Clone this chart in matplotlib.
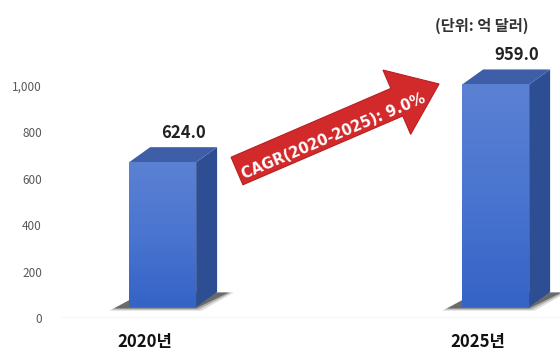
import numpy as np
import matplotlib
matplotlib.use("Agg")
from matplotlib import pyplot as plt
from matplotlib.patches import Polygon
from matplotlib.colors import LinearSegmentedColormap

plt.rcParams['font.family'] = ['Noto Sans CJK KR', 'DejaVu Sans']

# market size, unit: 100 million USD
years = ['2020년', '2025년']
values = [624.0, 959.0]
cagr_text = 'CAGR(2020-2025): 9.0%'
unit_text = '(단위: 억 달러)'
y_ticks = [0, 200, 400, 600, 800, 1000]

fig = plt.figure(figsize=(5.6, 3.52), dpi=100)
ax = fig.add_axes([60 / 560, 34 / 352, 500 / 560, 278 / 352])
ax.set_xlim(-0.2553, 1.2462)
ax.set_ylim(0, 1198)

# fake 3d box settings (data units)
shift = 0.053
width = 0.201
floor = 47.4
dx = 0.063
dy = 64.7

front_cmap = LinearSegmentedColormap.from_list('front', ['#3563c6', '#4a75d0', '#5b81d3'])
grad = np.linspace(0, 1, 256).reshape(-1, 1)

x = np.arange(len(values))
for i, v in enumerate(values):
    xl = x[i] + shift - width / 2
    xr = xl + width
    top = floor + v

    # soft floor shadow, darker towards the box
    for k, a in enumerate([0.15, 0.25, 0.5]):
        g = 0.008 * (2 - k)
        h = 5 * (2 - k)
        sh = Polygon([(xl - 0.045 - g, floor - 6 - h), (xr + g, floor - 6 - h),
                      (xr + dx + 0.035 + g, floor + dy - 2), (xl + dx - 0.02, floor + dy - 2)],
                     closed=True, facecolor='#262626', edgecolor='none', alpha=a, zorder=1)
        ax.add_patch(sh)

    bars = ax.bar(x[i] + shift, v, width=width, bottom=floor, color='#4a75d0', zorder=3)
    rect = bars[0]
    im = ax.imshow(grad, extent=(xl, xr, floor, top), origin='lower', cmap=front_cmap,
                   aspect='auto', zorder=3.5)
    im.set_clip_path(rect)

    side = Polygon([(xr, floor), (xr + dx, floor + dy), (xr + dx, top + dy), (xr, top)],
                   closed=True, facecolor='#2e4e94', edgecolor='none', zorder=3)
    ax.add_patch(side)
    lid = Polygon([(xl, top), (xl + dx, top + dy), (xr + dx, top + dy), (xr, top)],
                  closed=True, facecolor='#3f5ea8', edgecolor='none', zorder=3)
    ax.add_patch(lid)

    ax.text(x[i] + shift + dx, top + dy + 62, f'{v:.1f}', ha='center', va='center',
            fontsize=12, fontweight='bold', color='#222222', zorder=5)

ax.set_xlim(-0.2553, 1.2462)
ax.set_ylim(0, 1198)

ax.axhline(0, color='#d9d9d9', linewidth=1, zorder=0)
ax.set_yticks(y_ticks)
ax.set_yticklabels([f'{t:,}' for t in y_ticks], fontsize=8.5, color='#595959')
ax.set_xticks(x)
ax.set_xticklabels(years, fontsize=12, fontweight='bold', color='#111111')
ax.tick_params(axis='y', length=0, pad=13)
ax.tick_params(axis='x', length=0, pad=11)
for s in ax.spines.values():
    s.set_visible(False)

# overlay in pixel coords for the arrow and unit note
ov = fig.add_axes([0, 0, 1, 1])
ov.set_xlim(0, 560)
ov.set_ylim(352, 0)
ov.axis('off')
ov.patch.set_alpha(0)

ang = np.deg2rad(23.3)
d = np.array([np.cos(ang), -np.sin(ang)])
n = np.array([np.sin(ang), np.cos(ang)])
tail = np.array([237.0, 171.0])
length, body_w, head_w, head_l = 220, 15, 35, 46
neck = tail + d * (length - head_l)
tip = tail + d * length
arrow_pts = [tail - n * body_w, neck - n * body_w, neck - n * head_w, tip,
             neck + n * head_w, neck + n * body_w, tail + n * body_w]
ov.add_patch(Polygon(arrow_pts, closed=True, facecolor='#d2292b', edgecolor='#b81f22',
                     linewidth=0.8, zorder=6))
ov.text(334, 136, cagr_text, rotation=23, rotation_mode='anchor', ha='center', va='center',
        fontsize=10.5, fontweight='bold', family='DejaVu Sans', color='white', zorder=7)

ov.text(482, 26, unit_text, ha='center', va='center', fontsize=11, fontweight='bold',
        color='#333333')

fig.savefig('out.png', dpi=100)
